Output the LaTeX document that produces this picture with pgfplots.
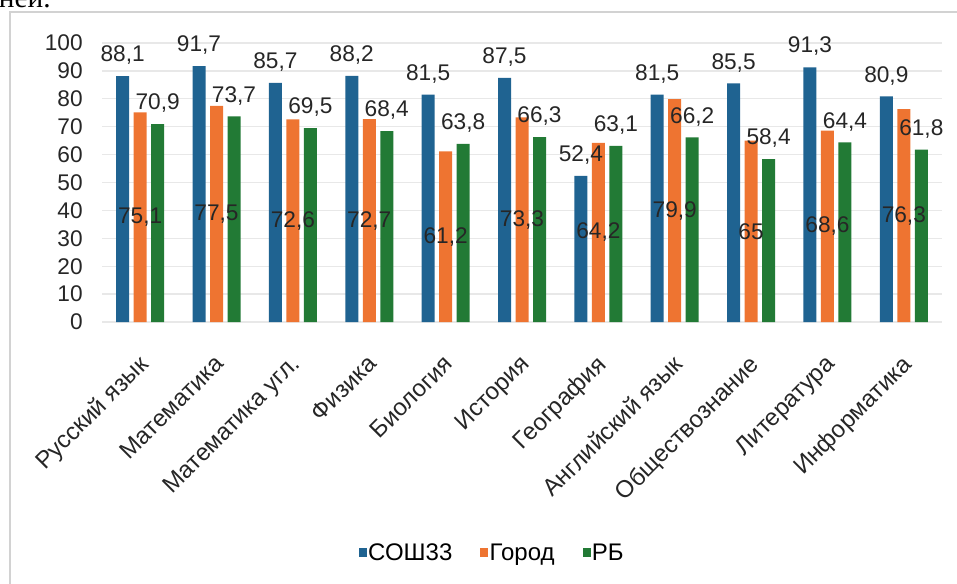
\documentclass[border=0pt]{standalone}
\usepackage{fontspec}
\setmainfont{Liberation Sans}
\newfontfamily\serifx{Liberation Serif}
\usepackage{pgfplots}
\pgfplotsset{compat=1.18}
\definecolor{cblue}{HTML}{1F6391}
\definecolor{corange}{HTML}{EE7431}
\definecolor{cgreen}{HTML}{227A35}
\definecolor{gridc}{HTML}{E8E8E8}
\newcommand\lbl{\fontsize{17}{20}\selectfont}

\begin{document}
\begin{tikzpicture}
\node[anchor=base west, inner sep=0, font=\serifx\fontsize{22}{26}\selectfont] at (-1pt,431.25pt) {ней.};
\draw[gray!35, line width=1pt] (7.5pt,-10pt) rectangle (730pt,428.25pt);
\begin{axis}[
  at={(76.5pt,195.75pt)}, anchor=south west,
  scale only axis, width=630pt, height=209.25pt,
  ymin=0, ymax=100, xmin=-0.5, xmax=10.5,
  ytick={0,10,...,100},
  xtick={0,...,10},
  xticklabels={Русский язык, Математика, Математика угл., Физика, Биология, История, География, Английский язык, Обществознание, Литература, Информатика},
  ybar, bar width=9.75pt,
  axis line style={draw=none},
  major tick length=0pt,
  ymajorgrids, grid style={gridc, line width=1pt},
  tick label style={font=\lbl, text=black!85},
  /pgf/number format/assume math mode=true,
  /pgf/number format/use comma,
  y tick label style={xshift=-11pt},
  x tick label style={rotate=45, anchor=north east, font=\fontsize{18}{21}\selectfont, xshift=-15pt, yshift=-11.5pt},
  legend style={at={(0.465,-0.828)}, anchor=center, draw=none, legend columns=3,
    font=\fontsize{18}{21}\selectfont,
    /tikz/every odd column/.append style={column sep=-1pt},
    /tikz/every even column/.append style={column sep=19pt}},
  legend image code/.code={\fill[#1] (0pt,-3pt) rectangle (6pt,3.5pt);},
]
\addplot[fill=cblue, draw=none, bar shift=-13.125pt, nodes near coords,
  nodes near coords style={font=\lbl, text=black!85, yshift=5pt}]
  coordinates {(0,88.1) (1,91.7) (2,85.7) (3,88.2) (4,81.5) (5,87.5) (6,52.4) (7,81.5) (8,85.5) (9,91.3) (10,80.9)};
\addplot[fill=corange, draw=none, bar shift=0pt, nodes near coords,
  visualization depends on={rawy \as \rawy},
  nodes near coords style={font=\lbl, text=black!85, anchor=center, yshift=-1.04625pt*\rawy}]
  coordinates {(0,75.1) (1,77.5) (2,72.6) (3,72.7) (4,61.2) (5,73.3) (6,64.2) (7,79.9) (8,65) (9,68.6) (10,76.3)};
\addplot[fill=cgreen, draw=none, bar shift=13.125pt, nodes near coords,
  nodes near coords style={font=\lbl, text=black!85, yshift=5pt}]
  coordinates {(0,70.9) (1,73.7) (2,69.5) (3,68.4) (4,63.8) (5,66.3) (6,63.1) (7,66.2) (8,58.4) (9,64.4) (10,61.8)};
\legend{СОШ33, Город, РБ}
\end{axis}
\pgfresetboundingbox
\useasboundingbox (0,0) rectangle (717.75pt,437.25pt);
\end{tikzpicture}
\end{document}
